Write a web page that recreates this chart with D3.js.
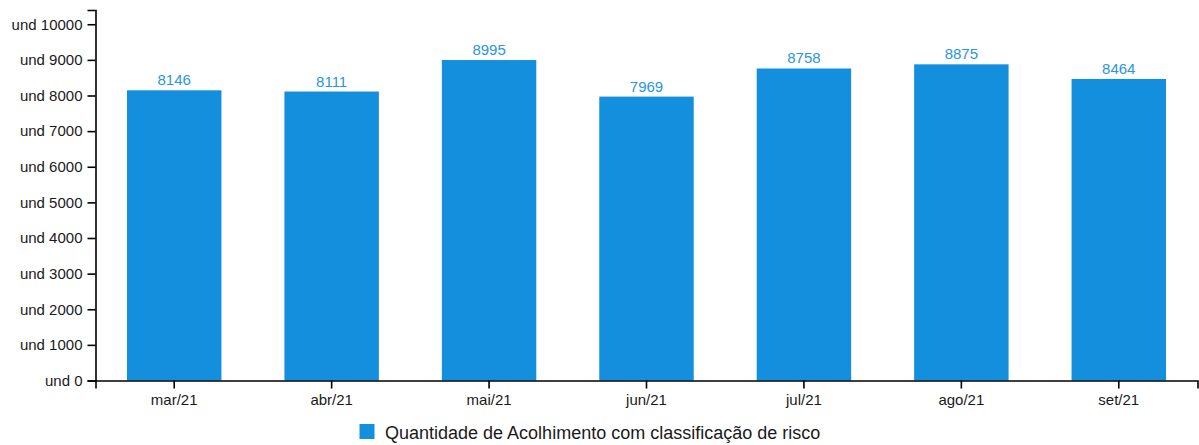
<!DOCTYPE html>
<html><head><meta charset="utf-8">
<script src="https://cdn.jsdelivr.net/npm/d3@7"></script>
<style>body{margin:0;background:#fff;font-family:"Liberation Sans",Arial,sans-serif}</style>
</head><body><svg id="c" width="1199" height="445"></svg>
<script>
const categories = ["mar/21","abr/21","mai/21","jun/21","jul/21","ago/21","set/21"];
const values = [8146,8111,8995,7969,8758,8875,8464];
const yTicks = [0,1000,2000,3000,4000,5000,6000,7000,8000,9000,10000];
const seriesName = "Quantidade de Acolhimento com classificação de risco";
const color = "#138fdd";

(function(){
const svg = d3.select("#c");
const FF = "'Liberation Sans', Arial, sans-serif";
const mLeft = 95.5, mRight = 1197.5, mTop = 10, mBottom = 380.5;
const x = d3.scaleBand().domain(categories).range([mLeft, mRight]).paddingInner(0.4).paddingOuter(0.2);
const y = d3.scaleLinear().domain([0, 10400]).range([mBottom, mTop]);

svg.selectAll("rect.bar").data(values).join("rect").attr("class","bar")
  .attr("x",(d,i)=>x(categories[i])).attr("width",x.bandwidth())
  .attr("y",d=>y(d)).attr("height",d=>y(0)-y(d)).attr("fill",color);

svg.selectAll("text.val").data(values).join("text").attr("class","val")
  .attr("x",(d,i)=>x(categories[i])+x.bandwidth()/2).attr("y",d=>y(d)-5)
  .attr("text-anchor","middle").attr("fill","#2a95e0").attr("font-size",15)
  .attr("font-family",FF).text(d=>d);

const ya = svg.append("g").attr("transform",`translate(${mLeft},0)`)
  .call(d3.axisLeft(y).tickValues(yTicks).tickSize(8).tickPadding(5).tickFormat(d=>"und "+d));
const xa = svg.append("g").attr("transform",`translate(0,${mBottom})`)
  .call(d3.axisBottom(x).tickSize(8).tickPadding(6));
[ya,xa].forEach(g=>{
  g.selectAll("text").attr("font-size",15).attr("fill","#1a1a1a").attr("font-family",FF);
  g.selectAll("path,line").attr("stroke","#000").attr("stroke-width",1.6);
});

const lg = svg.append("g");
lg.append("rect").attr("x",359.5).attr("y",424).attr("width",15).attr("height",15).attr("fill",color);
lg.append("text").attr("x",385).attr("y",438.5).attr("font-size",18).attr("fill","#1a1a1a")
  .attr("font-family",FF).text(seriesName);
})();
</script></body></html>
